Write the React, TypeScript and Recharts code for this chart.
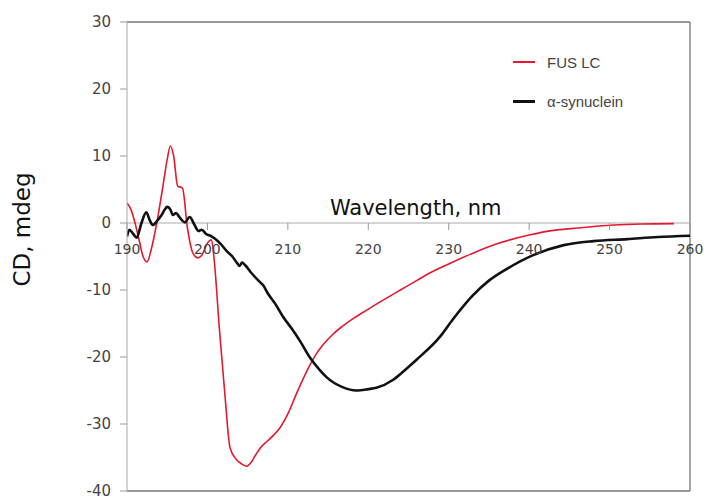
import React from 'react';
import {
  LineChart,
  Line,
  XAxis,
  YAxis,
  Legend,
  Label,
  ReferenceLine,
  ReferenceDot,
} from 'recharts';

// FUS LC spectrum (red)
const fusWavelength = [
  190, 190.5, 191, 191.5, 192, 192.5, 193, 193.7, 194.4, 195, 195.4, 195.8, 196.3, 196.9,
  197.5, 198.2, 198.8, 199.3, 200, 200.5, 200.8, 201.5, 202.2, 202.8, 203.6, 204.3, 204.9,
  205.4, 205.9, 206.7, 207.5, 208.2, 209, 210, 211.1, 212, 212.7, 213.5, 214.5, 215.6, 216.8,
  218.2, 219.8, 222, 224, 226, 228, 230.2, 233, 236, 240, 243, 245.5, 250.5, 254, 258,
];
const fusCD = [
  3, 2, 0, -2.5, -5, -5.8, -4, 0, 5, 9.5, 11.5, 10, 5.5, 5.2,
  -0.6, -4.5, -5.2, -4.8, -3, -2.5, -5, -16, -26, -33.5, -35.3, -36, -36.3,
  -35.8, -34.8, -33.4, -32.5, -31.7, -30.6, -28.5, -25.4, -23, -21.3, -19.6, -18, -16.6, -15.4,
  -14.2, -13, -11.4, -10, -8.6, -7.25, -6, -4.5, -3.1, -1.8, -1.1, -0.8, -0.3, -0.15, -0.1,
];

// alpha-synuclein spectrum (black)
const synWavelength = [
  190, 190.3, 190.7, 191.2, 191.8, 192.4, 192.8, 193.2, 193.8, 194.3, 194.7, 195, 195.4,
  195.7, 196.1, 196.5, 197.2, 197.8, 198.4, 198.9, 199.3, 199.8, 200.5, 201.1, 201.7, 202.4,
  203.1, 203.7, 204, 204.3, 204.7, 205.5, 206.5, 207, 207.4, 208.4, 209.4, 210.5, 211.5,
  212.7, 214, 214.8, 216.8, 218.5, 220, 221, 223.1, 224.5, 226, 228.9, 230.5, 233, 235,
  237.3, 240.5, 244.3, 248, 252.2, 256, 260,
];
const synCD = [
  -2, -1, -1.5, -2.2, 0, 1.6, 0.5, -0.3, 0.4, 1.2, 2, 2.4, 2,
  1.2, 1.5, 0.9, 0.1, 0.9, -0.3, -1.2, -1, -1.6, -2, -2.5, -3.2, -4.2,
  -5, -6, -6.4, -5.9, -6.3, -7.5, -8.8, -9.4, -10.3, -12, -14, -15.8, -17.6,
  -20, -22, -23, -24.5, -25, -24.8, -24.6, -23.4, -22, -20.4, -17, -14.4, -10.8, -8.6,
  -6.8, -4.8, -3.3, -2.7, -2.4, -2.1, -1.9,
];

const xTicks = [190, 200, 210, 220, 230, 240, 250, 260];
const yTicks = [-40, -30, -20, -10, 0, 10, 20, 30];

const fusData = fusWavelength.map((w, i) => ({ wavelength: w, cd: fusCD[i] }));
const synData = synWavelength.map((w, i) => ({ wavelength: w, cd: synCD[i] }));

const FONT = '"DejaVu Sans", sans-serif';

const renderXTick = (value: number) => (props: any) => {
  const { cx, cy } = props;
  if (cx == null || cy == null) return <g />;
  return (
    <g>
      <line x1={cx} y1={cy} x2={cx} y2={cy + 7} stroke="#999" strokeWidth={1} />
      <text x={cx} y={cy + 31} textAnchor="middle" fontSize={14} fontFamily={FONT} fill="#444">
        {value}
      </text>
    </g>
  );
};

const renderAxisTitle = (props: any) => {
  const { cx, cy } = props;
  if (cx == null || cy == null) return <g />;
  return (
    <text x={cx} y={cy - 8} textAnchor="middle" fontSize={21} fontFamily={FONT} fill="#111">
      Wavelength, nm
    </text>
  );
};

const renderYTitle = (props: any) => {
  const vb = props.viewBox || { x: 0, y: 22, width: 127, height: 470 };
  const x = vb.x + 30;
  const y = vb.y + vb.height / 2 - 27;
  return (
    <text
      x={x}
      y={y}
      transform={`rotate(-90, ${x}, ${y})`}
      textAnchor="middle"
      fontSize={23}
      fontFamily={FONT}
      fill="#111"
    >
      CD, mdeg
    </text>
  );
};

const renderLegend = (props: any) => {
  const { payload = [] } = props;
  return (
    <div style={{ fontFamily: '"Liberation Sans", Arial, sans-serif', fontSize: 15, color: '#444' }}>
      {payload.map((entry: any, i: number) => (
        <div
          key={`legend-${i}`}
          style={{ display: 'flex', alignItems: 'center', height: 20, marginBottom: 19 }}
        >
          <span
            style={{
              display: 'inline-block',
              width: 22,
              height: entry.value === 'FUS LC' ? 2 : 3,
              background: entry.color,
              marginRight: 12,
            }}
          />
          <span>{entry.value}</span>
        </div>
      ))}
    </div>
  );
};

export default function App() {
  return (
    <div style={{ position: 'absolute', left: 0, top: 0, width: 710, height: 500, background: '#fff' }}>
      <LineChart width={710} height={500} margin={{ top: 22, right: 20, bottom: 8, left: 0 }}>
        <XAxis
          dataKey="wavelength"
          type="number"
          domain={[190, 260]}
          ticks={xTicks}
          allowDataOverflow
          tick={false}
          tickLine={false}
          axisLine={{ stroke: '#777', strokeWidth: 1.5 }}
          height={1}
        />
        <YAxis
          type="number"
          domain={[-40, 30]}
          ticks={yTicks}
          interval={0}
          allowDataOverflow
          width={127}
          tickSize={7}
          tickMargin={9}
          tickLine={{ stroke: '#999' }}
          axisLine={{ stroke: '#aaa' }}
          tick={{ fill: '#444', fontSize: 15, fontFamily: FONT }}
        >
          <Label content={renderYTitle} />
        </YAxis>
        <ReferenceLine y={30} stroke="#777" strokeWidth={1.5} />
        <ReferenceLine x={260} stroke="#888" strokeWidth={1.5} />
        <ReferenceLine y={0} stroke="#aaa" strokeWidth={1} />
        {xTicks.map((t) => (
          <ReferenceDot key={`xt-${t}`} x={t} y={0} r={0} ifOverflow="visible" shape={renderXTick(t)} />
        ))}
        <ReferenceDot x={225.9} y={0} r={0} shape={renderAxisTitle} />
        <Legend
          layout="vertical"
          align="center"
          verticalAlign="middle"
          content={renderLegend}
          wrapperStyle={{ left: 513, top: 52, width: 160 }}
        />
        <Line
          data={fusData}
          dataKey="cd"
          name="FUS LC"
          type="monotone"
          stroke="#e3192f"
          strokeWidth={1.6}
          dot={false}
          isAnimationActive={false}
        />
        <Line
          data={synData}
          dataKey="cd"
          name="α-synuclein"
          type="monotone"
          stroke="#111"
          strokeWidth={2.6}
          dot={false}
          isAnimationActive={false}
        />
      </LineChart>
    </div>
  );
}
